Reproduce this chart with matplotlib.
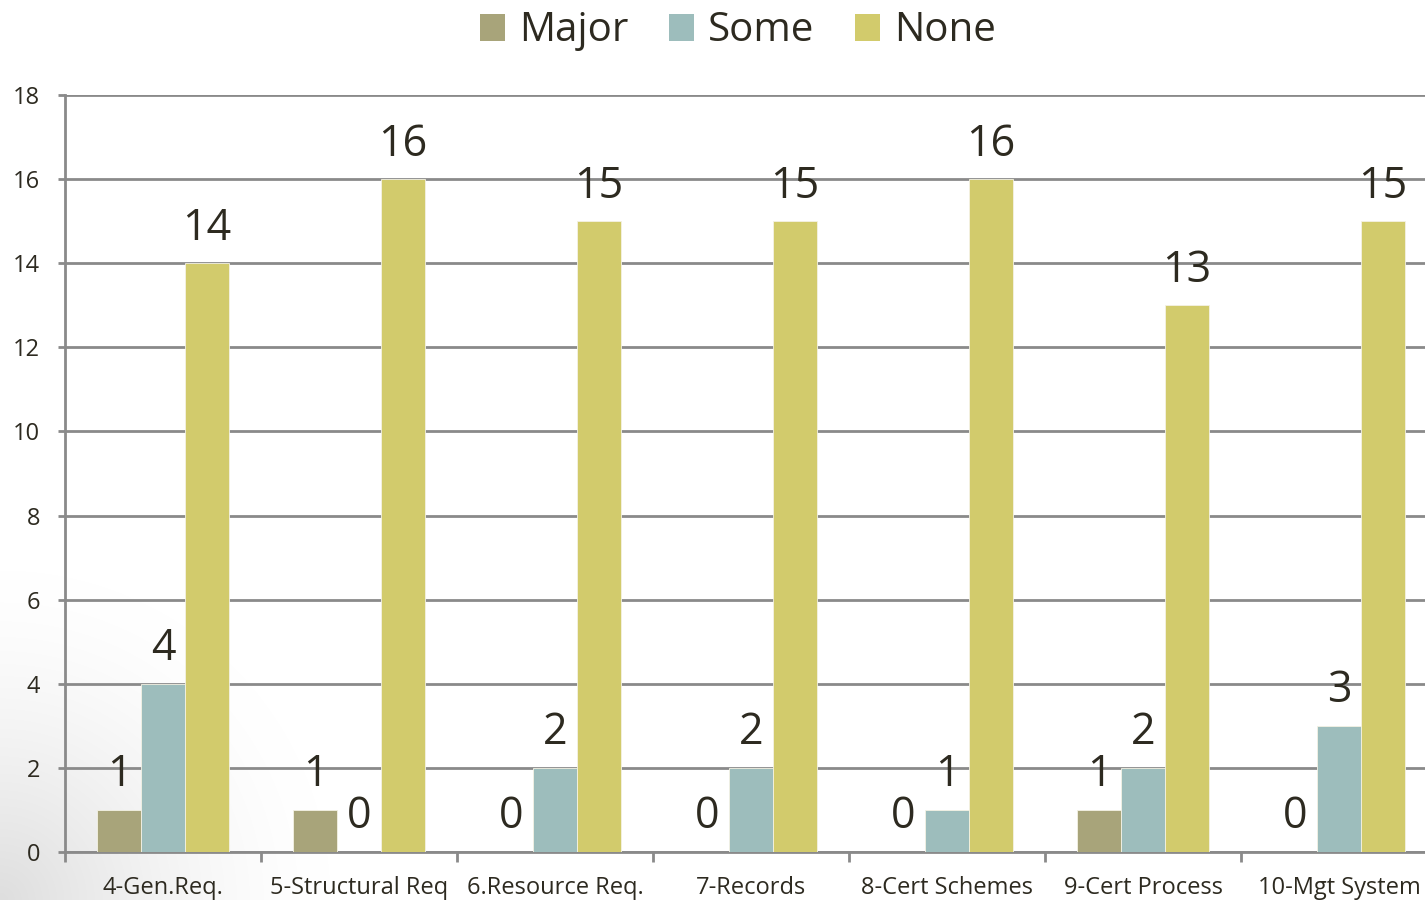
import numpy as np
import matplotlib.pyplot as plt
from matplotlib.patches import Patch

# chart data
categories = ["4-Gen.Req.", "5-Structural Req", "6.Resource Req.", "7-Records",
              "8-Cert Schemes", "9-Cert Process", "10-Mgt System"]
series_names = ["Major", "Some", "None"]
major = [1, 1, 0, 0, 0, 1, 0]
some = [4, 0, 2, 2, 1, 2, 3]
none = [14, 16, 15, 15, 16, 13, 15]
colors = ["#a8a47a", "#9dbdbc", "#d2cb6c"]
text_col = "#2d2a20"
grid_col = "#8a8a8a"

plt.rcParams['font.family'] = ['Open Sans', 'DejaVu Sans']

fig = plt.figure(figsize=(14.25, 9), dpi=100)

# soft grey shading in the lower-left corner
bg = fig.add_axes([0, 0, 1, 1], zorder=-5)
yy, xx = np.mgrid[0:900, 0:1425]
d = np.sqrt((xx / 1.0) ** 2 + ((900 - yy) * 1.0) ** 2)
shade = 1.0 - 0.13 * np.clip(1 - d / 330.0, 0, 1) ** 1.5
bg.imshow(np.dstack([shade] * 3), extent=[0, 1425, 0, 900], origin='upper', aspect='auto')
bg.axis('off')

ax = fig.add_axes([65 / 1425, 1 - 852 / 900, 1372 / 1425, 757 / 900])
ax.set_facecolor('none')

x = np.arange(len(categories))
w = 0.224
for i, (vals, name) in enumerate(zip([major, some, none], series_names)):
    pos = x + (i - 1) * w
    ax.bar(pos, vals, width=w, color=colors[i], edgecolor='#f4f2e4',
           linewidth=0.6, label=name, zorder=3)
    for xp, v in zip(pos, vals):
        ax.annotate(str(v), (xp, v), xytext=(0, 17), textcoords='offset points',
                    ha='center', va='baseline', fontsize=31, color=text_col, zorder=4)

ax.set_xlim(-0.5, len(categories) - 0.5)
ax.set_ylim(0, 18)
ax.set_yticks(np.arange(0, 19, 2))
ax.yaxis.grid(True, color=grid_col, linewidth=2, zorder=0)
ax.set_axisbelow(True)

ax.set_xticks(x)
ax.set_xticklabels(categories)
ax.set_xticks(np.arange(-0.5, len(categories), 1), minor=True)
ax.tick_params(axis='x', which='major', length=0, pad=17, labelsize=17, labelcolor=text_col)
ax.tick_params(axis='x', which='minor', length=7, width=2, color=grid_col, direction='out')
ax.tick_params(axis='y', length=5, width=2, color=grid_col, pad=13, labelsize=17,
               labelcolor=text_col)

for s in ['top', 'right']:
    ax.spines[s].set_visible(False)
for s in ['left', 'bottom']:
    ax.spines[s].set_color(grid_col)
    ax.spines[s].set_linewidth(2)

handles = [Patch(facecolor=c, label=n) for c, n in zip(colors, series_names)]
leg = fig.legend(handles=handles, loc='center', bbox_to_anchor=(738 / 1425, 1 - 31 / 900),
                 ncol=3, frameon=False, fontsize=29, handlelength=0.62, handleheight=0.65,
                 handletextpad=0.35, columnspacing=1.0)
for t in leg.get_texts():
    t.set_color(text_col)

fig.savefig("out.png", dpi=100)
